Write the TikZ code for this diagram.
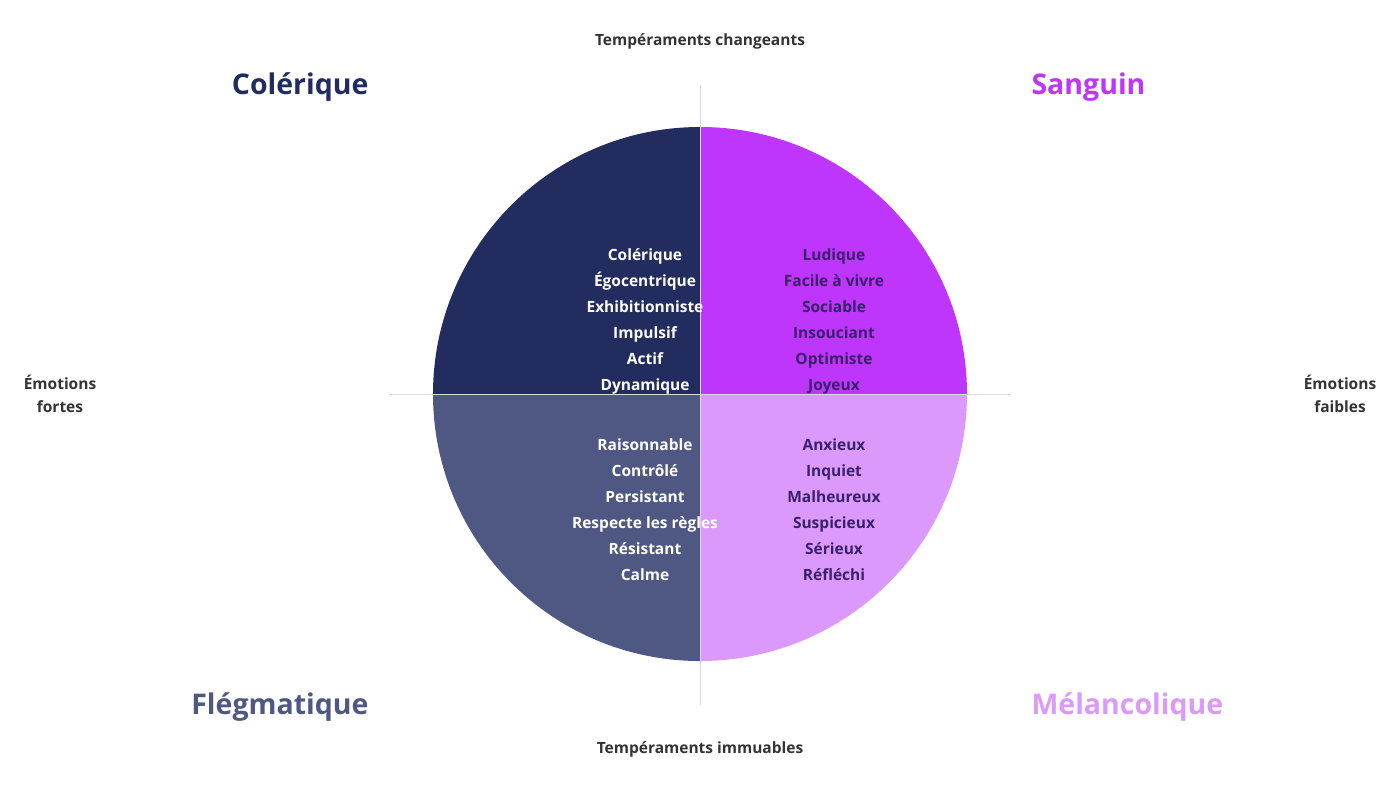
\documentclass[tikz,border=0pt]{standalone}
\usepackage{fontspec}
\setmainfont{Open Sans}
\begin{document}
\begin{tikzpicture}[x=1pt,y=-1pt,
 lst/.style={font=\fontsize{15.5}{26}\selectfont\bfseries,align=center},
 ttl/.style={font=\fontsize{28.5}{32}\selectfont\bfseries},
 ax/.style={font=\fontsize{15.5}{23}\selectfont\bfseries,text=black!80,align=center}]
\definecolor{q1}{HTML}{232C5F}\definecolor{q2}{HTML}{BE35FB}
\definecolor{q3}{HTML}{4F5783}\definecolor{q4}{HTML}{DB9AFB}
\definecolor{dk}{HTML}{3A1F6B}
\useasboundingbox (0,0) rectangle (1400,788);
\fill[q1] (700,394) -- (433,394) arc[start angle=180,end angle=270,radius=267] -- cycle;
\fill[q2] (700,394) -- (700,127) arc[start angle=270,end angle=360,radius=267] -- cycle;
\fill[q3] (700,394) -- (433,394) arc[start angle=180,end angle=90,radius=267] -- cycle;
\fill[q4] (700,394) -- (967,394) arc[start angle=0,end angle=90,radius=267] -- cycle;
\coordinate (l) at (390,394); \coordinate (r) at (1010,394);
\coordinate (t) at (700,85); \coordinate (b) at (700,705);
\draw[black!15,line width=0.8] (l) -- (r) (t) -- (b);
\node[lst,text=white] (a) at (645,321) {Colérique\\Égocentrique\\Exhibitionniste\\Impulsif\\Actif\\Dynamique};
\node[lst,text=dk] (s) at (834,321) {Ludique\\Facile à vivre\\Sociable\\Insouciant\\Optimiste\\Joyeux};
\node[lst,text=white] (f) at (645,510) {Raisonnable\\Contrôlé\\Persistant\\Respecte les règles\\Résistant\\Calme};
\node[lst,text=dk] (m) at (834,510) {Anxieux\\Inquiet\\Malheureux\\Suspicieux\\Sérieux\\Réfléchi};
\node[ttl,text=q1,anchor=east] (tc) at (372,87) {Colérique};
\node[ttl,text=q2,anchor=west] (ts) at (1028,87) {Sanguin};
\node[ttl,text=q3,anchor=east] (tf) at (372,707) {Flégmatique};
\node[ttl,text=q4,anchor=west] (tm) at (1028,707) {Mélancolique};
\node[ax] (x1) at (700,41) {Tempéraments changeants};
\node[ax] (x2) at (700,749) {Tempéraments immuables};
\node[ax] (x3) at (60,394) {Émotions\\fortes};
\node[ax] (x4) at (1340,394) {Émotions\\faibles};
\end{tikzpicture}
\end{document}
